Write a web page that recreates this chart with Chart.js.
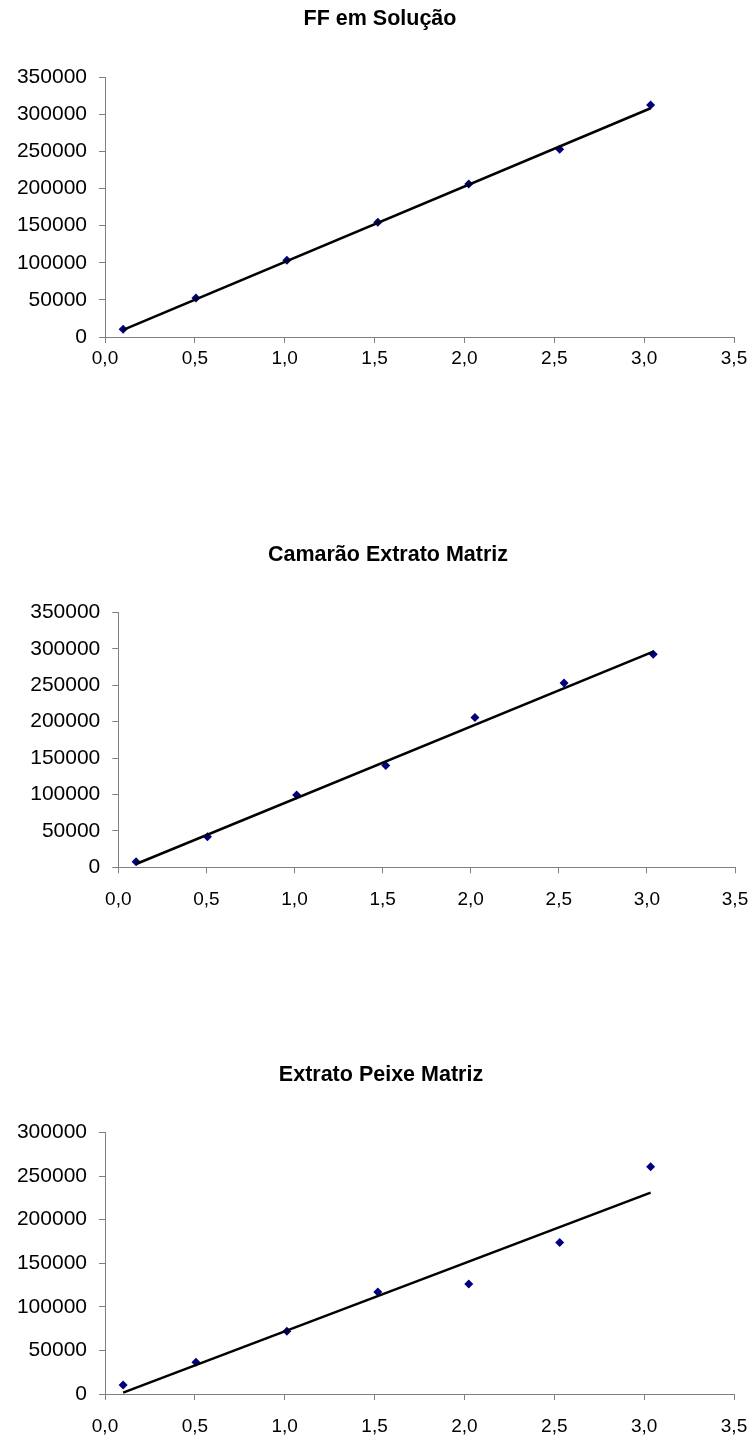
<!DOCTYPE html>
<html>
<head>
<meta charset="utf-8">
<script src="https://cdn.jsdelivr.net/npm/chart.js@4/dist/chart.umd.min.js"></script>
<style>
	body { margin: 0; background: #ffffff; }
	#page { position: relative; width: 752px; height: 1439px; }
	.box { position: absolute; left: 0; width: 752px; }
</style>
</head>
<body>
<div id="page">
	<div class="box" style="top: 0px;"><canvas id="chart-ff" width="752" height="380"></canvas></div>
	<div class="box" style="top: 520px;"><canvas id="chart-camarao" width="752" height="400"></canvas></div>
	<div class="box" style="top: 1040px;"><canvas id="chart-peixe" width="752" height="399"></canvas></div>
</div>
<script>
/* data */

var concentrations = [0.101, 0.506, 1.012, 1.518, 2.024, 2.530, 3.036];
var trendRange = [0.101, 3.036];

var ffTitle = "FF em Solução";
var ffAreas = [10400, 52500, 103300, 154400, 206000, 252700, 312300];
var ffTrend = [9500, 307900];

var camaraoTitle = "Camarão Extrato Matriz";
var camaraoAreas = [7700, 42000, 99200, 139600, 205500, 253100, 292500];
var camaraoTrend = [4500, 296000];

var peixeTitle = "Extrato Peixe Matriz";
var peixeAreas = [10300, 36400, 71900, 117000, 126100, 173600, 260500];
var peixeTrend = [1500, 231000];

var xTicks = [0, 3.5, 0.5];

/* charts */

var fontFamily = "'Liberation Sans', Arial, sans-serif";
var axisColor = "#808080";
var pointColor = "#000080";

// the left padding only moves the title; let the y labels use the space
var unclipLabels = {
	id: 'unclipLabels',
	afterLayout: function(chart) {
		chart.scales.y.left = 0;
	}
};

var toPoints = function(xs, ys) {
	var points = [];
	for (var i = 0; i < xs.length; i++) {
		points.push({ x: xs[i], y: ys[i] });
	}
	return points;
};

var setChart = function(id, title, areas, trend, yMax, layout) {
	var context = document.getElementById(id).getContext('2d');
	var payload = {
		type: 'scatter',
		data: {
			datasets: [
				{ type: 'line', data: toPoints(trendRange, trend), borderColor: '#000000', borderWidth: 2.5, pointRadius: 0, fill: false, tension: 0, order: 1 },
				{ data: toPoints(concentrations, areas), pointStyle: 'rectRot', pointRadius: 4.5, pointHoverRadius: 4.5, backgroundColor: pointColor, borderColor: pointColor, borderWidth: 0, order: 2 }
			]
		},
		plugins: [unclipLabels],
		options: {
			responsive: false,
			animation: false,
			devicePixelRatio: 1,
			layout: { padding: { left: layout.left, right: layout.right, top: 0, bottom: 0 } },
			plugins: {
				legend: { display: false },
				tooltip: { enabled: false },
				title: {
					display: true,
					text: title,
					color: '#000000',
					font: { family: fontFamily, size: 21.5, weight: 'bold', lineHeight: 1.2 },
					padding: { top: layout.titleTop, bottom: layout.titleBottom }
				}
			},
			scales: {
				x: {
					type: 'linear',
					min: xTicks[0],
					max: xTicks[1],
					border: { display: true, color: axisColor, width: 1 },
					grid: { display: true, drawOnChartArea: false, drawTicks: true, tickLength: 6, color: axisColor },
					ticks: {
						stepSize: xTicks[2],
						color: '#000000',
						padding: layout.xPad,
						font: { family: fontFamily, size: 19 },
						callback: function(value) { return value.toFixed(1).replace('.', ','); }
					},
					afterFit: function(scale) {
						scale.height = layout.xHeight;
						scale.paddingLeft = 0;
						scale.paddingRight = 0;
					}
				},
				y: {
					type: 'linear',
					min: 0,
					max: yMax,
					border: { display: true, color: axisColor, width: 1 },
					grid: { display: true, drawOnChartArea: false, drawTicks: true, tickLength: 6, color: axisColor },
					ticks: {
						stepSize: 50000,
						color: '#000000',
						padding: 12,
						font: { family: fontFamily, size: 21 },
						callback: function(value) { return String(value); }
					},
					afterFit: function(scale) { scale.width = layout.yWidth; }
				}
			}
		}
	};
	return new Chart(context, payload);
};

/* init */

var doInit = function() {
	setChart('chart-ff', ffTitle, ffAreas, ffTrend, 350000, { left: 26, right: 18, titleTop: 6, titleBottom: 45.2, yWidth: 79, xHeight: 43, xPad: 4 });
	setChart('chart-camarao', camaraoTitle, camaraoAreas, camaraoTrend, 350000, { left: 41, right: 17, titleTop: 22, titleBottom: 44.5, yWidth: 77.3, xHeight: 52.7, xPad: 15 });
	setChart('chart-peixe', peixeTitle, peixeAreas, peixeTrend, 300000, { left: 28, right: 18, titleTop: 22, titleBottom: 44.6, yWidth: 77, xHeight: 45, xPad: 15 });
};

document.addEventListener("DOMContentLoaded", doInit);
</script>
</body>
</html>
